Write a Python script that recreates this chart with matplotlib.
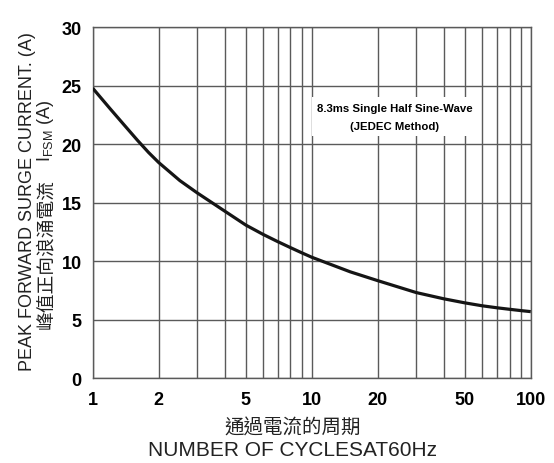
import matplotlib
matplotlib.use('Agg')
import matplotlib.pyplot as plt
from matplotlib.ticker import FixedLocator, NullFormatter

plt.rcParams['font.family'] = ['Liberation Sans', 'Noto Sans CJK TC', 'DejaVu Sans']

# surge current curve
cycles = [1, 1.2, 1.4, 1.6, 1.8, 2, 2.5, 3, 4, 5, 6, 7, 8, 9, 10,
          15, 20, 30, 40, 50, 60, 70, 80, 90, 100]
current = [24.8, 23.05, 21.6, 20.35, 19.3, 18.45, 16.9, 15.85, 14.3, 13.1, 12.3,
           11.68, 11.17, 10.73, 10.35, 9.1, 8.35, 7.33, 6.8, 6.45, 6.2, 6.03, 5.9, 5.79, 5.7]

x_ticks = [1, 2, 5, 10, 20, 50, 100]
x_grid = [1, 2, 3, 4, 5, 6, 7, 8, 9, 10, 20, 30, 40, 50, 60, 70, 80, 90, 100]
y_ticks = [0, 5, 10, 15, 20, 25, 30]

grid_col = '#5a5a5a'
txt_col = '#222222'

fig = plt.figure(figsize=(5.54, 4.64), dpi=100)
ax = fig.add_axes([0.1673, 0.1825, 0.958 - 0.1673, 0.939 - 0.1825])

ax.set_xscale('log')
ax.set_xlim(1, 100)
ax.set_ylim(0, 30)

ax.xaxis.set_major_locator(FixedLocator(x_ticks))
ax.xaxis.set_minor_locator(FixedLocator(x_grid))
ax.xaxis.set_minor_formatter(NullFormatter())
ax.set_xticklabels([str(t) for t in x_ticks])
ax.set_yticks(y_ticks)

for v in x_grid:
    ax.axvline(v, color=grid_col, lw=1.0, zorder=1)
for v in y_ticks:
    ax.axhline(v, color=grid_col, lw=1.0, zorder=1)

for s in ax.spines.values():
    s.set_color(grid_col)
    s.set_linewidth(1.0)

ax.tick_params(which='both', length=0)
ax.tick_params(axis='y', pad=8)
ax.tick_params(axis='x', pad=9)
for lab in ax.get_xticklabels() + ax.get_yticklabels():
    lab.set_fontsize(13)
    lab.set_fontweight('bold')

ax.plot(cycles, current, color='#151515', lw=2.3, zorder=3, solid_capstyle='butt')

ax.text(0.69, 0.745, '8.3ms Single Half Sine-Wave\n(JEDEC Method)',
        transform=ax.transAxes, ha='center', va='center', multialignment='center',
        fontsize=8.2, fontweight='bold', linespacing=1.95,
        bbox=dict(facecolor='white', edgecolor='none', pad=4), zorder=4)

# axis titles, english + chinese
fig.text(28 / 554, 1 - 202 / 464, 'PEAK FORWARD SURGE CURRENT. (A)',
         rotation=90, ha='center', va='center', fontsize=13, color=txt_col)
fig.text(46 / 554, 1 - 254 / 464, '峰值正向浪涌電流',
         rotation=90, ha='center', va='center', fontsize=13.5, color=txt_col)
fig.text(46 / 554, 1 - 131 / 464, 'I$_{\\mathregular{FSM}}$ (A)',
         rotation=90, ha='center', va='center', fontsize=13, color=txt_col)

fig.text(293 / 554, 1 - 428 / 464, '通過電流的周期',
         ha='center', va='center', fontsize=14, color=txt_col)
fig.text(293 / 554, 1 - 451 / 464, 'NUMBER OF CYCLESAT60Hz',
         ha='center', va='center', fontsize=15, color=txt_col)

fig.savefig('out.png', dpi=100)
